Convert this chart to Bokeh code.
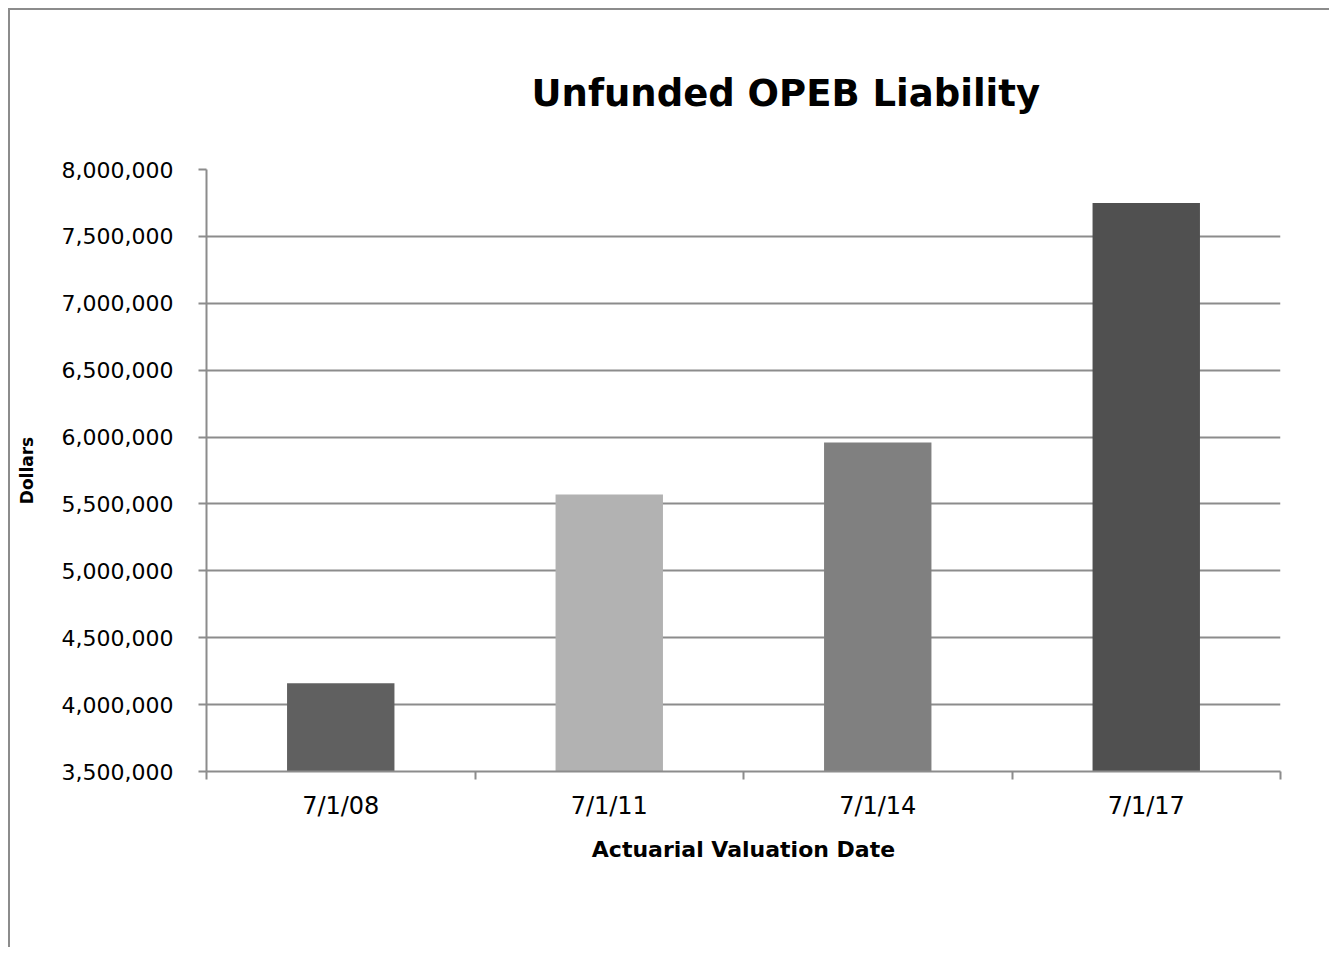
from bokeh.plotting import figure
from bokeh.models import Range1d, FixedTicker, NumeralTickFormatter, Title, ColumnDataSource
from bokeh.embed import file_html
from bokeh.resources import INLINE

# ---- data ----
dates = ["7/1/08", "7/1/11", "7/1/14", "7/1/17"]
liability = [4160000, 5570000, 5960000, 7750000]
bar_colors = ["#606060", "#b2b2b2", "#808080", "#505050"]
y_ticks = [3500000, 4000000, 4500000, 5000000, 5500000, 6000000, 6500000, 7000000, 7500000, 8000000]

positions = [i + 0.5 for i in range(len(dates))]
boundaries = [float(i) for i in range(len(dates) + 1)]

src = ColumnDataSource(dict(x=positions, top=liability, color=bar_colors))

GRAY = "#8c8c8c"
FONT = "DejaVu Sans"

p = figure(width=1321, height=939, output_backend="svg", toolbar_location=None,
           x_range=Range1d(0, len(dates)), y_range=Range1d(y_ticks[0], y_ticks[-1]),
           min_border_left=196, min_border_right=51, min_border_top=159, min_border_bottom=178)
p.styles = {"margin-left": "8px", "margin-top": "8px",
            "border-left": "2px solid #8c8c8c", "border-top": "2px solid #8c8c8c"}
p.outline_line_color = None
p.background_fill_color = "white"
p.border_fill_color = "white"

p.vbar(x="x", top="top", bottom=y_ticks[0], width=0.4, fill_color="color",
       line_color=None, source=src)

# title
t = Title(text="Unfunded OPEB Liability", align="left", offset=325, standoff=110,
          text_font=FONT, text_font_size="37px", text_font_style="bold", text_color="black")
p.title = t

# x axis
xa = p.xaxis[0]
xa.ticker = FixedTicker(ticks=positions, minor_ticks=boundaries)
xa.major_label_overrides = {pos: d for pos, d in zip(positions, dates)}
xa.major_tick_line_color = None
xa.minor_tick_line_color = GRAY
xa.minor_tick_line_width = 2
xa.minor_tick_out = 8
xa.minor_tick_in = 0
xa.axis_line_color = GRAY
xa.axis_line_width = 2
xa.major_label_text_font = FONT
xa.major_label_text_font_size = "24px"
xa.major_label_text_color = "black"
xa.major_label_standoff = 12
xa.axis_label = "Actuarial Valuation Date"
xa.axis_label_text_font = FONT
xa.axis_label_text_font_size = "22px"
xa.axis_label_text_font_style = "bold"
xa.axis_label_text_color = "black"
xa.axis_label_standoff = 14

# y axis
ya = p.yaxis[0]
ya.ticker = FixedTicker(ticks=y_ticks)
ya.formatter = NumeralTickFormatter(format="0,0")
ya.major_tick_line_color = GRAY
ya.major_tick_line_width = 2
ya.major_tick_out = 8
ya.major_tick_in = 0
ya.minor_tick_line_color = None
ya.axis_line_color = GRAY
ya.axis_line_width = 2
ya.major_label_text_font = FONT
ya.major_label_text_font_size = "22px"
ya.major_label_text_color = "black"
ya.major_label_standoff = 25
ya.axis_label = "Dollars"
ya.axis_label_text_font = FONT
ya.axis_label_text_font_size = "17px"
ya.axis_label_text_font_style = "bold"
ya.axis_label_text_color = "black"
ya.axis_label_standoff = 22

p.xgrid.grid_line_color = None
p.ygrid.ticker = FixedTicker(ticks=y_ticks)
p.ygrid.grid_line_color = GRAY
p.ygrid.grid_line_width = 2

open("out.html", "w").write(file_html(p, INLINE))
